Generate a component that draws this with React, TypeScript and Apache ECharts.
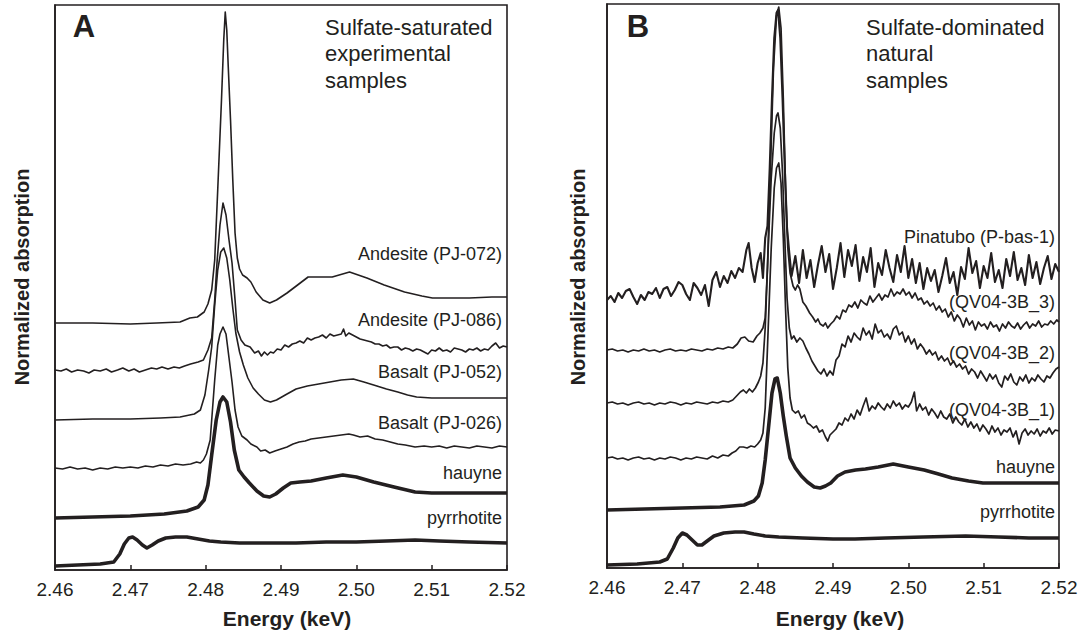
import React, { useEffect, useRef } from "react";
import * as echarts from "echarts";

const FONT = '"Liberation Sans", Arial, Helvetica, sans-serif';
const INK = "#231f20";

const xTicks = [2.46, 2.47, 2.48, 2.49, 2.5, 2.51, 2.52];

// ---------- Panel A: sulfate-saturated experimental samples ----------
const andesite072: [number, number][] = [
  [2.46, 247], [2.465, 247], [2.47, 246], [2.4735, 247], [2.4766, 248], [2.4779, 252], [2.4789, 253], [2.4798, 258],
  [2.4803, 266], [2.4808, 280], [2.4812, 310], [2.4816, 380], [2.4821, 470], [2.4824, 530], [2.4826, 558],
  [2.4828, 540], [2.483, 503], [2.4833, 450], [2.4836, 390], [2.4839, 337], [2.4842, 312], [2.4845, 301],
  [2.4849, 295], [2.4855, 292], [2.486, 288], [2.4867, 278], [2.4876, 270], [2.4885, 267], [2.4894, 270],
  [2.4908, 277], [2.4922, 285], [2.4936, 293], [2.495, 293], [2.4968, 293], [2.4991, 298], [2.5014, 292],
  [2.5037, 285], [2.5064, 278], [2.5087, 274], [2.5101, 272], [2.515, 272], [2.518, 273], [2.52, 273],
];

const andesite086: [number, number][] = [
  [2.46, 200], [2.4608, 199], [2.4615, 201], [2.4622, 198], [2.463, 200], [2.4638, 199], [2.4645, 197],
  [2.4652, 200], [2.466, 199], [2.4668, 201], [2.4675, 198], [2.4683, 200], [2.469, 202], [2.4698, 199],
  [2.4705, 201], [2.4712, 198], [2.472, 200], [2.4728, 202], [2.4735, 201], [2.4742, 203], [2.475, 201],
  [2.4758, 203], [2.4765, 202], [2.4772, 204], [2.478, 206], [2.479, 208], [2.4797, 210], [2.4803, 220],
  [2.4808, 232], [2.4812, 270], [2.4815, 307], [2.4819, 345], [2.4823, 367], [2.4827, 355], [2.4831, 330],
  [2.4835, 307], [2.4839, 270], [2.4842, 240], [2.4847, 230], [2.4852, 225], [2.4859, 223], [2.4865, 217],
  [2.487, 219], [2.4874, 214], [2.4878, 218], [2.4882, 215], [2.4886, 218], [2.489, 217], [2.4895, 221],
  [2.49, 220], [2.4905, 225], [2.491, 223], [2.4915, 226], [2.492, 227], [2.4925, 229], [2.493, 227],
  [2.4935, 232], [2.494, 230], [2.4945, 232], [2.495, 233], [2.4955, 235], [2.496, 232], [2.4965, 236],
  [2.497, 234], [2.4975, 235], [2.498, 236], [2.4983, 241], [2.4986, 234], [2.499, 237], [2.4995, 235],
  [2.5, 233], [2.5005, 231], [2.501, 230], [2.5015, 229], [2.502, 228], [2.5025, 226], [2.503, 226],
  [2.5035, 224], [2.504, 225], [2.5045, 222], [2.505, 223], [2.5055, 223], [2.506, 220], [2.5065, 222],
  [2.507, 221], [2.5075, 219], [2.508, 221], [2.5085, 220], [2.509, 218], [2.5095, 216], [2.51, 220],
  [2.5105, 219], [2.511, 222], [2.5115, 219], [2.512, 220], [2.5125, 218], [2.513, 222], [2.5135, 221],
  [2.514, 220], [2.5145, 218], [2.515, 221], [2.5155, 220], [2.516, 222], [2.5165, 219], [2.517, 221],
  [2.5175, 220], [2.518, 224], [2.5185, 227], [2.519, 222], [2.5195, 224], [2.52, 223],
];

const basalt052: [number, number][] = [
  [2.46, 150], [2.465, 151], [2.47, 151], [2.474, 152], [2.4766, 153], [2.4785, 156], [2.4793, 160],
  [2.4799, 175], [2.4804, 200], [2.4808, 223], [2.4812, 265], [2.4816, 300], [2.482, 318], [2.4824, 322],
  [2.4828, 312], [2.4832, 290], [2.4836, 262], [2.484, 237], [2.4845, 218], [2.485, 205], [2.4856, 192],
  [2.4863, 182], [2.487, 176], [2.4878, 170], [2.4886, 168], [2.4894, 170], [2.4908, 176], [2.492, 181],
  [2.4935, 184], [2.495, 186], [2.4965, 188], [2.498, 190], [2.4996, 191], [2.501, 188], [2.5023, 185],
  [2.504, 181], [2.5055, 178], [2.5068, 175], [2.508, 173], [2.51, 172], [2.5124, 172], [2.516, 172], [2.52, 172],
];

const basalt026: [number, number][] = [
  [2.46, 102], [2.461, 101], [2.462, 103], [2.463, 101], [2.464, 102], [2.465, 100], [2.466, 102],
  [2.467, 101], [2.468, 103], [2.469, 102], [2.47, 103], [2.471, 102], [2.472, 104], [2.473, 103],
  [2.474, 105], [2.475, 104], [2.476, 106], [2.477, 105], [2.478, 106], [2.4788, 108], [2.4793, 107],
  [2.4797, 110], [2.4801, 116], [2.4806, 130], [2.4809, 160], [2.4812, 190], [2.4816, 225], [2.4819, 236],
  [2.4823, 243], [2.4827, 236], [2.4831, 212], [2.4835, 188], [2.4839, 160], [2.4843, 143], [2.4848, 134],
  [2.4855, 130], [2.486, 126], [2.4868, 123], [2.4873, 119], [2.4879, 120], [2.4885, 117], [2.4892, 119],
  [2.49, 121], [2.4908, 123], [2.4916, 126], [2.4924, 128], [2.4932, 129], [2.494, 131], [2.495, 132],
  [2.496, 133], [2.497, 134], [2.498, 135], [2.499, 136], [2.4996, 135], [2.5005, 133], [2.5015, 134],
  [2.5025, 131], [2.5035, 130], [2.5045, 128], [2.5055, 126], [2.5065, 125], [2.5078, 123], [2.509, 124],
  [2.51, 123], [2.511, 124], [2.512, 122], [2.513, 124], [2.514, 123], [2.515, 122], [2.516, 124],
  [2.517, 123], [2.518, 122], [2.519, 124], [2.52, 123],
];

const hauyneA: [number, number][] = [
  [2.46, 52], [2.465, 53], [2.47, 54], [2.4745, 56], [2.4775, 59], [2.479, 63], [2.4798, 70], [2.4803, 85],
  [2.4808, 115], [2.4814, 150], [2.4819, 168], [2.4823, 173], [2.4828, 168], [2.4833, 148], [2.4838, 120],
  [2.4844, 100], [2.4851, 93], [2.4858, 87], [2.4868, 79], [2.4877, 74], [2.4885, 73], [2.4893, 76],
  [2.4903, 82], [2.4913, 87], [2.4925, 88], [2.494, 89], [2.496, 92], [2.4982, 95], [2.5, 93], [2.5023, 88],
  [2.505, 83], [2.5078, 78], [2.51, 77], [2.515, 77], [2.52, 77],
];

const pyrrhotiteA: [number, number][] = [
  [2.46, 4], [2.463, 5], [2.466, 6], [2.4678, 8], [2.4686, 16], [2.4692, 26], [2.4698, 32], [2.4703, 33],
  [2.4709, 30], [2.4716, 25], [2.4722, 22], [2.4729, 25], [2.4737, 29], [2.4747, 32], [2.476, 33],
  [2.4775, 33], [2.479, 31], [2.4805, 29], [2.482, 28], [2.4845, 27], [2.488, 27], [2.492, 27], [2.496, 28],
  [2.5, 28], [2.504, 29], [2.5078, 30], [2.511, 29], [2.515, 28], [2.52, 27],
];

// ---------- Panel B: sulfate-dominated natural samples ----------
const pinatubo: [number, number][] = [
  [2.46, 268], [2.4605, 272], [2.461, 266], [2.4615, 275], [2.462, 270], [2.4625, 277], [2.463, 279],
  [2.4635, 271], [2.464, 264], [2.4645, 273], [2.465, 268], [2.4655, 276], [2.466, 274], [2.4665, 280],
  [2.467, 270], [2.4675, 279], [2.468, 281], [2.4685, 272], [2.469, 278], [2.4695, 286], [2.47, 283],
  [2.4705, 274], [2.471, 268], [2.4715, 285], [2.472, 280], [2.4725, 273], [2.473, 283], [2.4735, 262],
  [2.474, 288], [2.4745, 296], [2.475, 281], [2.4755, 292], [2.476, 285], [2.4765, 297], [2.477, 290],
  [2.4775, 300], [2.478, 296], [2.4785, 318], [2.4788, 325], [2.4792, 300], [2.4796, 286], [2.48, 305],
  [2.4804, 315], [2.4807, 290], [2.481, 330], [2.4813, 342], [2.4816, 400], [2.4819, 470], [2.4822, 530],
  [2.4825, 555], [2.4827, 558], [2.483, 530], [2.4833, 470], [2.4836, 400], [2.4839, 340], [2.4842, 315],
  [2.4845, 292], [2.485, 312], [2.4855, 285], [2.486, 318], [2.4865, 290], [2.487, 308], [2.4875, 281],
  [2.488, 303], [2.4885, 322], [2.489, 296], [2.4895, 314], [2.49, 279], [2.4905, 300], [2.491, 325],
  [2.4915, 291], [2.492, 318], [2.4925, 302], [2.493, 323], [2.4935, 287], [2.494, 311], [2.4945, 296],
  [2.495, 320], [2.4955, 281], [2.496, 305], [2.4965, 293], [2.497, 318], [2.4975, 300], [2.498, 286],
  [2.4985, 313], [2.499, 296], [2.4995, 322], [2.5, 290], [2.5005, 309], [2.501, 285], [2.5015, 305],
  [2.502, 279], [2.5025, 300], [2.503, 287], [2.5035, 298], [2.504, 276], [2.5045, 292], [2.505, 310],
  [2.5055, 285], [2.506, 296], [2.5065, 273], [2.507, 301], [2.5075, 289], [2.508, 320], [2.5085, 295],
  [2.509, 307], [2.5095, 280], [2.51, 302], [2.5105, 290], [2.511, 315], [2.5115, 286], [2.512, 298],
  [2.5125, 280], [2.513, 309], [2.5135, 292], [2.514, 316], [2.5145, 288], [2.515, 300], [2.5155, 283],
  [2.516, 313], [2.5165, 290], [2.517, 306], [2.5175, 284], [2.518, 300], [2.5185, 312], [2.519, 289],
  [2.5195, 304], [2.52, 296],
];

const qv3: [number, number][] = [
  [2.46, 218], [2.4607, 219], [2.4614, 217], [2.4621, 218], [2.4628, 216], [2.4635, 218], [2.4642, 217],
  [2.4649, 219], [2.4656, 217], [2.4663, 218], [2.467, 216], [2.4677, 218], [2.4684, 219], [2.4691, 217],
  [2.4698, 218], [2.4705, 217], [2.4712, 219], [2.4719, 218], [2.4726, 217], [2.4733, 219], [2.474, 218],
  [2.4747, 220], [2.4754, 219], [2.4761, 221], [2.4767, 220], [2.4773, 224], [2.4778, 230], [2.4783, 231],
  [2.4788, 227], [2.4794, 226], [2.4799, 232], [2.4803, 235], [2.4807, 240], [2.481, 250], [2.4813, 300],
  [2.4817, 400], [2.4821, 500], [2.4825, 552], [2.4828, 561], [2.4831, 540], [2.4834, 470], [2.4837, 380],
  [2.484, 320], [2.4843, 295], [2.4847, 282], [2.485, 278], [2.4853, 283], [2.4856, 279], [2.486, 266],
  [2.4864, 262], [2.4869, 255], [2.4873, 251], [2.4877, 246], [2.488, 249], [2.4883, 244], [2.4887, 242],
  [2.489, 245], [2.4893, 240], [2.4897, 244], [2.4901, 247], [2.4905, 252], [2.4909, 249], [2.4913, 258],
  [2.4917, 256], [2.4921, 263], [2.4925, 261], [2.4929, 266], [2.4933, 260], [2.4937, 268], [2.4941, 265],
  [2.4945, 263], [2.4949, 272], [2.4953, 266], [2.4957, 270], [2.4961, 274], [2.4965, 268], [2.4969, 273],
  [2.4973, 271], [2.4977, 279], [2.4981, 272], [2.4985, 276], [2.4989, 274], [2.4993, 279], [2.4997, 273],
  [2.5001, 276], [2.5005, 270], [2.5009, 275], [2.5013, 268], [2.5017, 270], [2.5021, 264], [2.5025, 267],
  [2.5029, 262], [2.5033, 265], [2.5037, 258], [2.5041, 262], [2.5045, 256], [2.5049, 259], [2.5053, 251],
  [2.5057, 256], [2.5061, 247], [2.5065, 253], [2.5069, 249], [2.5073, 241], [2.5077, 250], [2.5081, 243],
  [2.5085, 247], [2.5089, 238], [2.5093, 246], [2.5097, 242], [2.5101, 244], [2.5105, 239], [2.5109, 246],
  [2.5113, 241], [2.5117, 243], [2.5121, 237], [2.5125, 244], [2.5129, 240], [2.5133, 246], [2.5137, 242],
  [2.5141, 240], [2.5145, 245], [2.5149, 239], [2.5153, 243], [2.5157, 246], [2.5161, 240], [2.5165, 244],
  [2.5169, 242], [2.5173, 247], [2.5177, 241], [2.5181, 244], [2.5185, 243], [2.5189, 247], [2.5193, 244],
  [2.5197, 248], [2.52, 246],
];

const qv2: [number, number][] = [
  [2.46, 165], [2.4607, 166], [2.4614, 164], [2.4621, 165], [2.4628, 163], [2.4635, 165], [2.4642, 166],
  [2.4649, 164], [2.4656, 165], [2.4663, 163], [2.467, 165], [2.4677, 164], [2.4684, 166], [2.4691, 165],
  [2.4698, 163], [2.4705, 165], [2.4712, 164], [2.4719, 166], [2.4726, 165], [2.4733, 164], [2.474, 166],
  [2.4747, 165], [2.4754, 167], [2.4761, 166], [2.4767, 168], [2.4772, 172], [2.4777, 176], [2.4781, 178],
  [2.4785, 175], [2.4789, 179], [2.4793, 176], [2.4797, 180], [2.4801, 186], [2.4804, 192], [2.4807, 205],
  [2.481, 240], [2.4814, 320], [2.4818, 390], [2.4822, 435], [2.4825, 452], [2.4827, 455], [2.483, 440],
  [2.4833, 395], [2.4836, 330], [2.4839, 270], [2.4842, 240], [2.4845, 229], [2.4848, 232], [2.4852, 226],
  [2.4856, 230], [2.486, 227], [2.4864, 220], [2.4868, 214], [2.4872, 207], [2.4876, 202], [2.488, 197],
  [2.4884, 194], [2.4888, 199], [2.4892, 192], [2.4896, 197], [2.49, 193], [2.4904, 208], [2.4908, 212],
  [2.4912, 224], [2.4916, 221], [2.492, 232], [2.4924, 226], [2.4928, 235], [2.4932, 231], [2.4936, 228],
  [2.494, 240], [2.4944, 233], [2.4948, 237], [2.4952, 229], [2.4956, 244], [2.496, 235], [2.4964, 238],
  [2.4968, 231], [2.4972, 234], [2.4976, 229], [2.498, 239], [2.4984, 242], [2.4988, 233], [2.4992, 236],
  [2.4996, 226], [2.5, 232], [2.5004, 224], [2.5008, 229], [2.5012, 219], [2.5016, 224], [2.502, 220],
  [2.5024, 214], [2.5028, 218], [2.5032, 213], [2.5036, 216], [2.504, 208], [2.5044, 212], [2.5048, 207],
  [2.5052, 210], [2.5056, 203], [2.506, 207], [2.5064, 201], [2.5068, 204], [2.5072, 199], [2.5076, 202],
  [2.508, 194], [2.5084, 199], [2.5088, 196], [2.5092, 190], [2.5096, 197], [2.51, 192], [2.5104, 187],
  [2.5108, 194], [2.5112, 189], [2.5116, 193], [2.512, 185], [2.5124, 181], [2.5128, 192], [2.5132, 188],
  [2.5136, 194], [2.514, 186], [2.5144, 183], [2.5148, 191], [2.5152, 187], [2.5156, 193], [2.516, 185],
  [2.5164, 190], [2.5168, 187], [2.5172, 193], [2.5176, 189], [2.518, 186], [2.5184, 192], [2.5188, 190],
  [2.5192, 195], [2.5196, 199], [2.52, 201],
];

const qv1: [number, number][] = [
  [2.46, 110], [2.4607, 111], [2.4614, 109], [2.4621, 110], [2.4628, 108], [2.4635, 110], [2.4642, 111],
  [2.4649, 109], [2.4656, 110], [2.4663, 108], [2.467, 110], [2.4677, 109], [2.4684, 111], [2.4691, 110],
  [2.4698, 108], [2.4705, 110], [2.4712, 109], [2.4719, 111], [2.4726, 110], [2.4733, 109], [2.474, 112],
  [2.4747, 110], [2.4754, 113], [2.4761, 112], [2.4766, 115], [2.4771, 117], [2.4776, 121], [2.4781, 121],
  [2.4786, 120], [2.4791, 122], [2.4796, 121], [2.48, 124], [2.4804, 128], [2.4807, 135], [2.481, 160],
  [2.4814, 240], [2.4818, 320], [2.4822, 380], [2.4825, 400], [2.4828, 405], [2.4831, 385], [2.4834, 330],
  [2.4837, 260], [2.484, 200], [2.4843, 170], [2.4846, 158], [2.485, 155], [2.4854, 157], [2.4858, 150],
  [2.4862, 153], [2.4866, 145], [2.487, 143], [2.4874, 140], [2.4878, 142], [2.4882, 136], [2.4886, 138],
  [2.489, 131], [2.4893, 127], [2.4896, 133], [2.49, 136], [2.4904, 139], [2.4908, 145], [2.4912, 143],
  [2.4916, 150], [2.492, 147], [2.4924, 154], [2.4928, 149], [2.4932, 158], [2.4936, 153], [2.494, 162],
  [2.4944, 170], [2.4948, 157], [2.4952, 162], [2.4956, 159], [2.496, 165], [2.4964, 161], [2.4968, 158],
  [2.4972, 164], [2.4976, 160], [2.498, 167], [2.4984, 162], [2.4988, 165], [2.4992, 159], [2.4996, 163],
  [2.5, 161], [2.5004, 166], [2.5008, 176], [2.5011, 157], [2.5015, 164], [2.5019, 158], [2.5023, 161],
  [2.5027, 153], [2.5031, 159], [2.5035, 155], [2.5039, 150], [2.5043, 157], [2.5047, 151], [2.5051, 149],
  [2.5055, 154], [2.5059, 145], [2.5063, 151], [2.5067, 146], [2.5071, 143], [2.5075, 149], [2.5079, 141],
  [2.5083, 146], [2.5087, 140], [2.5091, 144], [2.5095, 137], [2.5099, 143], [2.5103, 139], [2.5107, 134],
  [2.5111, 142], [2.5115, 136], [2.5119, 140], [2.5123, 133], [2.5127, 138], [2.5131, 136], [2.5135, 140],
  [2.5139, 131], [2.5143, 137], [2.5147, 124], [2.5151, 135], [2.5155, 139], [2.5159, 133], [2.5163, 137],
  [2.5167, 134], [2.5171, 139], [2.5175, 132], [2.5179, 137], [2.5183, 135], [2.5187, 140], [2.5191, 134],
  [2.5195, 138], [2.52, 137],
];

const hauyneB: [number, number][] = [
  [2.46, 58], [2.465, 59], [2.47, 60], [2.475, 61], [2.4782, 63], [2.4795, 67], [2.4801, 72], [2.4806, 85],
  [2.481, 108], [2.4815, 145], [2.4819, 175], [2.4823, 189], [2.4826, 190], [2.483, 175], [2.4834, 152],
  [2.4838, 132], [2.4843, 110], [2.485, 100], [2.4858, 92], [2.4866, 86], [2.4875, 81], [2.4883, 80],
  [2.489, 82], [2.4897, 85], [2.4906, 92], [2.4916, 96], [2.493, 98], [2.4943, 99], [2.496, 101],
  [2.498, 104], [2.5, 101], [2.5021, 98], [2.504, 94], [2.5058, 90], [2.508, 87], [2.5099, 85],
  [2.515, 85], [2.52, 85],
];

const pyrrhotiteB: [number, number][] = [
  [2.46, 3], [2.464, 4], [2.467, 6], [2.468, 9], [2.4688, 20], [2.4694, 30], [2.47, 35], [2.4706, 33],
  [2.4713, 28], [2.472, 23], [2.4726, 23], [2.4733, 27], [2.4742, 32], [2.4755, 35], [2.477, 36],
  [2.4782, 36], [2.4795, 34], [2.481, 32], [2.4828, 31], [2.486, 30], [2.49, 29], [2.4929, 29],
  [2.497, 30], [2.502, 31], [2.5076, 32], [2.512, 31], [2.516, 30], [2.52, 30],
];

const labelsA = ["Andesite (PJ-072)", "Andesite (PJ-086)", "Basalt (PJ-052)", "Basalt (PJ-026)", "hauyne", "pyrrhotite"];
const labelsB = ["Pinatubo (P-bas-1)", "(QV04-3B_3)", "(QV04-3B_2)", "(QV04-3B_1)", "hauyne", "pyrrhotite"];
const titleA = ["Sulfate-saturated", "experimental", "samples"];
const titleB = ["Sulfate-dominated", "natural", "samples"];

export default function App() {
  const ref = useRef<HTMLDivElement>(null);
  useEffect(() => {
    if (!ref.current) return;
    const chart = echarts.init(ref.current, undefined, { renderer: "svg" });

    const xAxisBase = (gridIndex: number) => ({
      gridIndex,
      type: "value",
      min: xTicks[0],
      max: xTicks[xTicks.length - 1],
      interval: 0.01,
      axisLine: { show: true, lineStyle: { color: INK, width: 1.6 } },
      axisTick: { show: true, inside: true, length: 5, lineStyle: { color: INK, width: 1.5 } },
      axisLabel: {
        formatter: (v: number) => v.toFixed(2),
        fontSize: 19,
        color: INK,
        margin: 10,
        fontFamily: FONT,
        showMinLabel: true,
        showMaxLabel: true,
      },
      splitLine: { show: false },
    });
    const yAxisBase = (gridIndex: number, max: number) => ({
      gridIndex,
      type: "value",
      min: 0,
      max,
      axisLine: { show: true, lineStyle: { color: INK, width: 1.6 } },
      axisTick: { show: false },
      axisLabel: { show: false },
      splitLine: { show: false },
    });

    const line = (data: [number, number][], idx: number, w: number) => ({
      type: "line",
      xAxisIndex: idx,
      yAxisIndex: idx,
      data,
      showSymbol: false,
      symbol: "none",
      lineStyle: { color: INK, width: w, join: "round" },
      z: 3,
    });

    const labelStyle = (x: number, y: number, text: string) => ({
      type: "text",
      x,
      y,
      style: {
        text,
        fill: INK,
        font: `18px ${FONT}`,
        textAlign: "right",
        textVerticalAlign: "middle",
      },
      z: 10,
    });

    const yA = [254, 320, 372, 423, 473, 518];
    const yB = [237, 302, 353, 410, 467, 512];
    const yT = [27, 53, 80];

    const graphics: any[] = [];
    labelsA.forEach((t, i) => graphics.push(labelStyle(502, yA[i], t)));
    labelsB.forEach((t, i) => graphics.push(labelStyle(1055, yB[i], t)));
    titleA.forEach((t, i) =>
      graphics.push({
        type: "text",
        x: 325,
        y: yT[i],
        style: { text: t, fill: INK, font: `22px ${FONT}`, textAlign: "left", textVerticalAlign: "middle" },
      })
    );
    titleB.forEach((t, i) =>
      graphics.push({
        type: "text",
        x: 866,
        y: yT[i],
        style: { text: t, fill: INK, font: `22px ${FONT}`, textAlign: "left", textVerticalAlign: "middle" },
      })
    );
    [["A", 84], ["B", 638]].forEach(([t, x]) =>
      graphics.push({
        type: "text",
        x: x as number,
        y: 26,
        style: { text: t as string, fill: INK, font: `bold 31px ${FONT}`, textAlign: "center", textVerticalAlign: "middle" },
      })
    );
    [22, 578].forEach((x) =>
      graphics.push({
        type: "text",
        x,
        y: 277,
        rotation: Math.PI / 2,
        style: {
          text: "Normalized absorption",
          fill: INK,
          font: `bold 20px ${FONT}`,
          textAlign: "center",
          textVerticalAlign: "middle",
        },
      })
    );
    [287, 840].forEach((x) =>
      graphics.push({
        type: "text",
        x,
        y: 618,
        style: {
          text: "Energy (keV)",
          fill: INK,
          font: `bold 21px ${FONT}`,
          textAlign: "center",
          textVerticalAlign: "middle",
        },
      })
    );

    chart.setOption({
      animation: false,
      backgroundColor: "#ffffff",
      grid: [
        { left: 55, top: 5, width: 452, height: 565, show: true, borderColor: INK, borderWidth: 1.6, backgroundColor: "transparent" },
        { left: 607, top: 4, width: 452, height: 564, show: true, borderColor: INK, borderWidth: 1.6, backgroundColor: "transparent" },
      ],
      xAxis: [xAxisBase(0), xAxisBase(1)],
      yAxis: [yAxisBase(0, 565), yAxisBase(1, 564)],
      series: [
        line(andesite072, 0, 1.6),
        line(andesite086, 0, 1.6),
        line(basalt052, 0, 1.6),
        line(basalt026, 0, 1.6),
        line(hauyneA, 0, 3.6),
        line(pyrrhotiteA, 0, 3.6),
        line(pinatubo, 1, 2.1),
        line(qv3, 1, 1.7),
        line(qv2, 1, 1.7),
        line(qv1, 1, 1.7),
        line(hauyneB, 1, 3.6),
        line(pyrrhotiteB, 1, 3.6),
      ],
      graphic: graphics,
    });
    return () => chart.dispose();
  }, []);

  return (
    <div
      ref={ref}
      style={{ position: "absolute", left: 0, top: 0, width: 1086, height: 635, background: "#fff" }}
    />
  );
}
